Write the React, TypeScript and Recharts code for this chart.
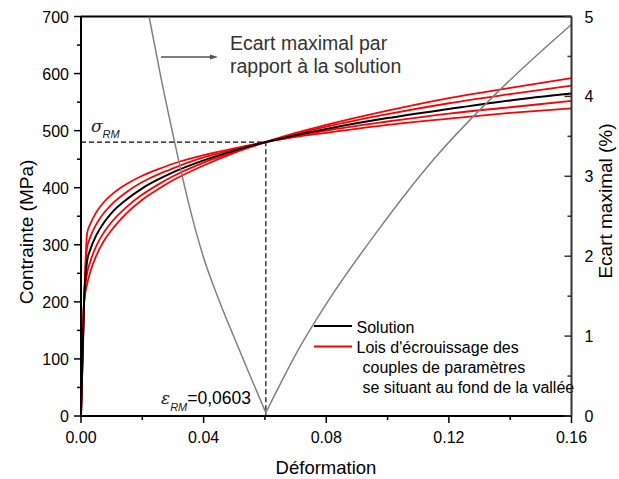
import React from 'react';
import { LineChart, Line, XAxis, YAxis, ReferenceLine, Customized } from 'recharts';

// Strain grid (Déformation) shared by the stress curves
const strain = [0, 0.001, 0.002, 0.003, 0.005, 0.0075, 0.01, 0.015, 0.02, 0.025, 0.03, 0.04, 0.05, 0.0603, 0.07, 0.08, 0.10, 0.12, 0.14, 0.16];
// Solution (black)
const solution = [0, 200, 272, 291, 317, 339, 356, 380, 399, 414, 427, 448, 465, 480, 492, 503, 522, 538, 553, 565];
// Lois d'écrouissage (red)
const loi1 = [0, 199, 231, 252, 281, 307, 326, 356, 379, 397, 413, 439, 461, 480, 496, 510, 535, 557, 575, 592];
const loi2 = [0, 200, 250, 270, 298, 322, 340, 367, 388, 405, 420, 444, 463, 480, 494, 507, 529, 548, 564, 579];
const loi3 = [0, 200, 295, 313, 336, 356, 371, 393, 410, 423, 434, 453, 467, 480, 490, 500, 516, 530, 541, 552];
const loi4 = [0, 200, 320, 336, 357, 375, 388, 407, 421, 432, 442, 457, 469, 480, 489, 496, 510, 521, 531, 539];

// Ecart maximal (%) curve (gray, right axis) — left branch and right branch of the valley
const ecartLeftStrain = [0.0222, 0.0260, 0.0307, 0.0350, 0.0400, 0.0450, 0.0500, 0.0552, 0.0603];
const ecartLeftValue = [5.00, 4.25, 3.40, 2.68, 1.98, 1.45, 0.98, 0.50, 0.04];
const ecartRightStrain = [0.0603, 0.0715, 0.0808, 0.0970, 0.1150, 0.1374, 0.1600];
const ecartRightValue = [0.04, 0.87, 1.45, 2.33, 3.21, 4.11, 4.90];

const sigmaRM = 480;
const epsRM = 0.0603;

const xTicks = [0, 0.02, 0.04, 0.06, 0.08, 0.10, 0.12, 0.14, 0.16];
const yLeftTicks = [0, 50, 100, 150, 200, 250, 300, 350, 400, 450, 500, 550, 600, 650, 700];
const yRightTicks = [0, 0.5, 1, 1.5, 2, 2.5, 3, 3.5, 4, 4.5, 5];

const stressData = strain.map((x, i) => ({
  x,
  solution: solution[i],
  loi1: loi1[i],
  loi2: loi2[i],
  loi3: loi3[i],
  loi4: loi4[i],
}));
const ecartLeftData = ecartLeftStrain.map((x, i) => ({ x, ecart: ecartLeftValue[i] }));
const ecartRightData = ecartRightStrain.map((x, i) => ({ x, ecart: ecartRightValue[i] }));
const dashData = [
  { x: 0, d: sigmaRM },
  { x: epsRM, d: sigmaRM },
  { x: epsRM, d: 0 },
];

const FONT = 'Liberation Sans, Arial, sans-serif';
const TICK_FS = 16;

const XTick = (props: any) => {
  const { x, y, payload } = props;
  const v = payload.value as number;
  const major = Math.round(v / 0.02) % 2 === 0;
  return (
    <g>
      <line x1={x} x2={x} y1={y} y2={y + (major ? 7 : 4)} stroke="#000" strokeWidth={1.5} />
      {major && (
        <text x={x} y={y + 27} textAnchor="middle" fontSize={TICK_FS} fontFamily={FONT} fill="#000">
          {v.toFixed(2)}
        </text>
      )}
    </g>
  );
};

const YLeftTick = (props: any) => {
  const { x, y, payload } = props;
  const v = payload.value as number;
  const major = Math.round(v) % 100 === 0;
  return (
    <g>
      <line x1={x} x2={x - (major ? 7 : 4)} y1={y} y2={y} stroke="#000" strokeWidth={1.5} />
      {major && (
        <text x={x - 12} y={y + 6} textAnchor="end" fontSize={TICK_FS} fontFamily={FONT} fill="#000">
          {String(v)}
        </text>
      )}
    </g>
  );
};

const YRightTick = (props: any) => {
  const { x, y, payload } = props;
  const v = payload.value as number;
  const major = Math.round(v * 2) % 2 === 0;
  return (
    <g>
      <line x1={x} x2={x - (major ? 7 : 4)} y1={y} y2={y} stroke="#333" strokeWidth={1.5} />
      {major && (
        <text x={x + 13} y={y + 6} textAnchor="start" fontSize={TICK_FS} fontFamily={FONT} fill="#000">
          {String(v)}
        </text>
      )}
    </g>
  );
};

const Annotations = () => (
  <g fontFamily={FONT}>
    {/* axis titles */}
    <text x={26} y={232} transform="rotate(-90 26 232)" textAnchor="middle" dominantBaseline="central" fontSize={19} fill="#000">
      Contrainte (MPa)
    </text>
    <text x={605} y={201} transform="rotate(-90 605 201)" textAnchor="middle" dominantBaseline="central" fontSize={19} fill="#000">
      Ecart maximal (%)
    </text>
    <text x={326} y={474} textAnchor="middle" fontSize={18.5} fill="#000">
      Déformation
    </text>
    {/* gray annotation */}
    <line x1={161} x2={211} y1={57} y2={57} stroke="#555" strokeWidth={1.3} />
    <polygon points="218,57 210,54.5 210,59.5" fill="#555" />
    <text x={230} y={50} fontSize={19.5} fill="#333">Ecart maximal par</text>
    <text x={230} y={73} fontSize={19.5} fill="#333">rapport à la solution</text>
    {/* sigma RM */}
    <text x={91} y={132} fill="#222">
      <tspan fontSize={17} fontStyle="italic" fontFamily="DejaVu Serif, serif">σ</tspan>
      <tspan fontSize={11} fontStyle="italic" dy={6}>RM</tspan>
    </text>
    {/* epsilon RM */}
    <text x={161} y={404} fill="#222">
      <tspan fontSize={17} fontStyle="italic" fontFamily="DejaVu Serif, serif">ε</tspan>
      <tspan fontSize={11} fontStyle="italic" dy={7}>RM</tspan>
      <tspan fontSize={17.5} dy={-7} fill="#000">=0,0603</tspan>
    </text>
    {/* legend */}
    <line x1={314} x2={352} y1={326} y2={326} stroke="#000" strokeWidth={2} />
    <line x1={314} x2={352} y1={346.5} y2={346.5} stroke="#ff0000" strokeWidth={2} />
    <text x={356.5} y={333} fontSize={16} fill="#000">Solution</text>
    <text x={356.5} y={353} fontSize={16} fill="#000">Lois d'écrouissage des</text>
    <text x={362.5} y={373} fontSize={16} fill="#000">couples de paramètres</text>
    <text x={362.5} y={393} fontSize={16} fill="#000">se situant au fond de la vallée</text>
  </g>
);

export default function App() {
  return (
    <div style={{ position: 'absolute', left: 0, top: 0, width: 619, height: 479, background: '#fff' }}>
      <LineChart
        width={619}
        height={479}
        data={stressData}
        margin={{ top: 16.5, right: 7.5, bottom: 23, left: 21 }}
      >
        <XAxis
          dataKey="x"
          type="number"
          domain={[0, 0.16]}
          ticks={xTicks}
          interval={0}
          allowDataOverflow
          height={40}
          tickSize={0}
          tickMargin={0}
          tickLine={false}
          axisLine={{ stroke: '#000', strokeWidth: 2 }}
          tick={<XTick />}
        />
        <YAxis
          yAxisId="left"
          type="number"
          domain={[0, 700]}
          ticks={yLeftTicks}
          interval={0}
          allowDataOverflow
          width={60}
          tickSize={0}
          tickMargin={0}
          tickLine={false}
          axisLine={{ stroke: '#000', strokeWidth: 2 }}
          tick={<YLeftTick />}
        />
        <YAxis
          yAxisId="right"
          orientation="right"
          type="number"
          domain={[0, 5]}
          ticks={yRightTicks}
          interval={0}
          allowDataOverflow
          width={40}
          tickSize={0}
          tickMargin={0}
          tickLine={false}
          axisLine={{ stroke: '#333', strokeWidth: 2 }}
          tick={<YRightTick />}
        />
        <ReferenceLine yAxisId="left" y={700} stroke="#000" strokeWidth={2} />
        <Line yAxisId="left" data={dashData} dataKey="d" type="linear" stroke="#000" strokeWidth={1.2} strokeDasharray="5 3" dot={false} isAnimationActive={false} />
        <Line yAxisId="left" dataKey="loi1" type="monotone" stroke="#ff0000" strokeWidth={1.8} dot={false} isAnimationActive={false} />
        <Line yAxisId="left" dataKey="loi2" type="monotone" stroke="#ff0000" strokeWidth={1.8} dot={false} isAnimationActive={false} />
        <Line yAxisId="left" dataKey="loi3" type="monotone" stroke="#ff0000" strokeWidth={1.8} dot={false} isAnimationActive={false} />
        <Line yAxisId="left" dataKey="loi4" type="monotone" stroke="#ff0000" strokeWidth={1.8} dot={false} isAnimationActive={false} />
        <Line yAxisId="left" dataKey="solution" type="monotone" stroke="#000" strokeWidth={2} dot={false} isAnimationActive={false} />
        <Line yAxisId="right" data={ecartLeftData} dataKey="ecart" type="monotone" stroke="#808080" strokeWidth={1.5} dot={false} isAnimationActive={false} />
        <Line yAxisId="right" data={ecartRightData} dataKey="ecart" type="monotone" stroke="#808080" strokeWidth={1.5} dot={false} isAnimationActive={false} />
        <Customized component={Annotations} />
      </LineChart>
    </div>
  );
}
